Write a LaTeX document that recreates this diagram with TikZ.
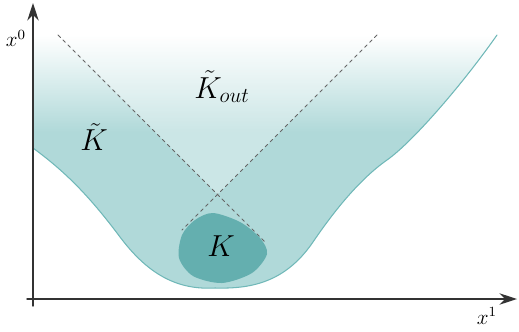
\documentclass[tikz,border=0pt]{standalone}
\usepackage{amsmath,amssymb}
\usepackage{xcolor}
\usetikzlibrary{arrows.meta,calc}
\definecolor{kfill}{RGB}{176,217,217}
\definecolor{kedge}{RGB}{112,184,184}
\definecolor{kdark}{RGB}{100,175,175}
\pgfdeclareverticalshading{kfade}{100bp}{color(0bp)=(kfill); color(25bp)=(kfill); color(56bp)=(kfill); color(75bp)=(white); color(100bp)=(white)}
% lower boundary of K tilde
\newcommand{\ktcurve}{(33,148) .. controls (60,168) and (85,190) .. (120,237)
  .. controls (150,277) and (180,290) .. (215,288)
  .. controls (250,289) and (285,283) .. (313,242)
  .. controls (330,217) and (357,181) .. (387,160)
  .. controls (412,142.5) and (462,85) .. (497,35)}
\tikzset{
  axisarrow/.style={draw=black!80, line width=0.8pt, -{Stealth[length=10pt,width=6.5pt]}},
  cone/.style={draw=black!60, line width=0.45pt, dash pattern=on 2pt off 2pt},
  lbl/.style={inner sep=0pt},
  every picture/.style={line cap=round, line join=round}
}

\begin{document}
\begin{tikzpicture}[x=0.02cm, y=-0.02cm]
  \useasboundingbox (0,0) rectangle (519,331);
  % the region K tilde
  \shade[shading=kfade] (33,35) -- \ktcurve -- cycle;
  % lighter cone above K
  \coordinate (l0) at (58,35);
  \coordinate (r0) at (377,35);
  \coordinate (apex) at (217.5,194.5);
  \coordinate (l1) at (265,242);
  \coordinate (r1) at (182,230);
  \begin{scope}
    \clip (33,35) -- \ktcurve -- cycle;
    \fill[white, opacity=0.35] (l0) -- (apex) -- (r0) -- cycle;
  \end{scope}
  \draw[cone] (l0) -- (l1);
  \draw[cone] (r0) -- (r1);
  % the set K
  \fill[kdark] plot[smooth cycle] coordinates {(213,213) (240,222) (260,238) (267,254) (252,273) (222,283) (193,276) (179,258) (182,235) (195,220)};
  \draw[kedge, line width=0.6pt] \ktcurve;
  % axes
  \coordinate (o1) at (33,306);
  \coordinate (o2) at (27,299);
  \coordinate (t0) at (33,3);
  \coordinate (t1) at (517,299);
  \draw[axisarrow] (o1) -- (t0);
  \draw[axisarrow] (o2) -- (t1);
  \node[lbl] (x0) at (16,38.5) {\large$x^0$};
  \node[lbl] (x1) at (487,316) {\large$x^1$};
  \node[lbl] (kt) at (94,137) {\LARGE$\tilde{K}$};
  \node[lbl] (kout) at (222,86.5) {\LARGE$\tilde{K}_{out}$};
  \node[lbl] (k) at (221,246) {\LARGE$K$};
\end{tikzpicture}
\end{document}
